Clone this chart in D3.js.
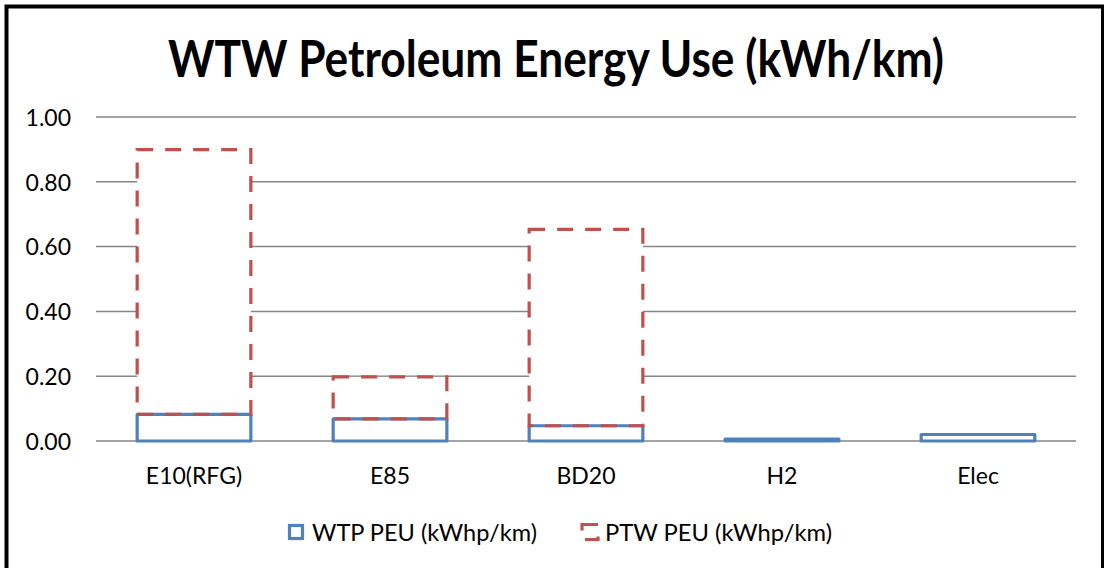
<!DOCTYPE html>
<html>
<head>
<meta charset="utf-8">
<script src="https://cdn.jsdelivr.net/npm/d3@7"></script>
<style>
  html, body { margin: 0; padding: 0; background: #fff; }
  svg { display: block; }
  text { font-family: Lato, "Open Sans", sans-serif; fill: #000; }
</style>
</head>
<body>
<svg id="chart" width="1104" height="568"></svg>
<script>
const categories = ["E10(RFG)", "E85", "BD20", "H2", "Elec"];
const wtpValues = [0.082, 0.068, 0.047, 0.006, 0.020];
const ptwValues = [0.817, 0.130, 0.606, 0.0, 0.0];
const seriesNames = ["WTP PEU (kWhp/km)", "PTW PEU (kWhp/km)"];
const yTicks = [0, 0.2, 0.4, 0.6, 0.8, 1.0];
const titleText = "WTW Petroleum Energy Use (kWh/km)";

const blue = "#4F81BD", red = "#C0504D", grid = "#868686";
const FONT = "Lato, 'Open Sans', sans-serif";

const svg = d3.select("#chart");

// outer frame
svg.append("rect")
  .attr("x", 6.5).attr("y", 6.5)
  .attr("width", 1096.5).attr("height", 600)
  .attr("fill", "#fff").attr("stroke", "#000").attr("stroke-width", 4);

// title
svg.append("text")
  .attr("x", 556).attr("y", 77)
  .attr("text-anchor", "middle")
  .attr("font-size", 51).attr("font-weight", 700)
  .attr("textLength", 776).attr("lengthAdjust", "spacingAndGlyphs")
  .text(titleText);

const x = d3.scaleBand().domain(categories).range([96, 1076])
  .paddingInner(0.42).paddingOuter(0.21);
const y = d3.scaleLinear().domain([0, 1]).range([441, 117]);

// gridlines
svg.append("g").selectAll("line").data(yTicks).join("line")
  .attr("x1", 96).attr("x2", 1076)
  .attr("y1", d => y(d)).attr("y2", d => y(d))
  .attr("stroke", grid).attr("stroke-width", 1.5);

// y axis labels
const yAxis = d3.axisLeft(y).tickValues(yTicks).tickFormat(d3.format(".2f")).tickSize(0).tickPadding(0);
const yg = svg.append("g").attr("transform", "translate(71,0)").call(yAxis);
yg.select(".domain").remove();
yg.selectAll("text").attr("font-size", 23).attr("font-family", FONT).attr("dy", "0.36em");

// x axis labels
const xAxis = d3.axisBottom(x).tickSize(0).tickPadding(0);
const xg = svg.append("g").attr("transform", "translate(0,484)").call(xAxis);
xg.select(".domain").remove();
xg.selectAll("text").attr("font-size", 23).attr("font-family", FONT).attr("dy", 0).attr("y", 0);

// bars
const stacked = categories.map((c, i) => ({cat: c, wtp: wtpValues[i], ptw: ptwValues[i]}));
const ptwData = stacked.filter(d => d.ptw > 0);

// white background of PTW segments (hides gridlines)
svg.append("g").selectAll("rect").data(ptwData).join("rect")
  .attr("x", d => x(d.cat)).attr("width", x.bandwidth())
  .attr("y", d => y(d.wtp + d.ptw)).attr("height", d => y(d.wtp) - y(d.wtp + d.ptw))
  .attr("fill", "#fff");

svg.append("g").selectAll("rect").data(stacked).join("rect")
  .attr("x", d => x(d.cat)).attr("width", x.bandwidth())
  .attr("y", d => y(d.wtp)).attr("height", d => y(0) - y(d.wtp))
  .attr("fill", "#fff").attr("stroke", blue).attr("stroke-width", 3.2)
  .attr("stroke-linejoin", "round");

svg.append("g").selectAll("rect").data(ptwData).join("rect")
  .attr("x", d => x(d.cat)).attr("width", x.bandwidth())
  .attr("y", d => y(d.wtp + d.ptw)).attr("height", d => y(d.wtp) - y(d.wtp + d.ptw))
  .attr("fill", "none")
  .attr("stroke", red).attr("stroke-width", 3.2)
  .attr("stroke-dasharray", "16,12");

// legend
const lg = svg.append("g");
lg.append("rect").attr("x", 289.5).attr("y", 525.5).attr("width", 13).attr("height", 13)
  .attr("fill", "#fff").attr("stroke", blue).attr("stroke-width", 3.2);
lg.append("text").attr("x", 312).attr("y", 541).attr("font-size", 24)
  .attr("textLength", 225).attr("lengthAdjust", "spacingAndGlyphs").text(seriesNames[0]);
lg.append("rect").attr("x", 582).attr("y", 524.5).attr("width", 16).attr("height", 15)
  .attr("fill", "none").attr("stroke", red).attr("stroke-width", 3.2)
  .attr("stroke-dasharray", "16,12");
lg.append("text").attr("x", 605).attr("y", 541).attr("font-size", 24)
  .attr("textLength", 227).attr("lengthAdjust", "spacingAndGlyphs").text(seriesNames[1]);
</script>
</body>
</html>
